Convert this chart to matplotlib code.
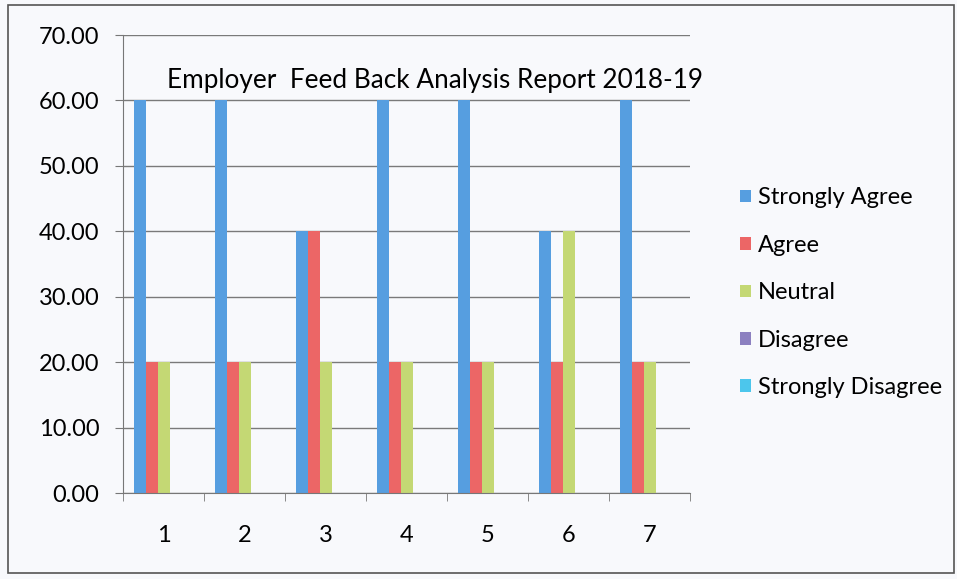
import numpy as np
import matplotlib.pyplot as plt
from matplotlib.patches import Rectangle

# Chart data
categories = ['1', '2', '3', '4', '5', '6', '7']
strongly_agree = [60, 60, 40, 60, 60, 40, 60]
agree = [20, 20, 40, 20, 20, 20, 20]
neutral = [20, 20, 20, 20, 20, 40, 20]
disagree = [0, 0, 0, 0, 0, 0, 0]
strongly_disagree = [0, 0, 0, 0, 0, 0, 0]

series_names = ['Strongly Agree', 'Agree', 'Neutral', 'Disagree', 'Strongly Disagree']
colors = ['#569ee0', '#ec6666', '#c4d874', '#8c80c0', '#4cc6ec']

plt.rcParams['font.family'] = ['Lato', 'DejaVu Sans']
fs = 17

fig = plt.figure(figsize=(9.57, 5.79), dpi=100)
fig.patch.set_facecolor('#f8f9fc')
fig.patches.append(Rectangle((8 / 957, 6 / 579), 946 / 957, 568 / 579,
                             transform=fig.transFigure, fill=False,
                             edgecolor='#555555', linewidth=1.2))

ax = fig.add_axes([123 / 957, 1 - 493 / 579, 567 / 957, 458 / 579])
ax.set_facecolor('#f8f9fc')

x = np.arange(len(categories))
bar_w = 1 / 6.75
all_series = [strongly_agree, agree, neutral, disagree, strongly_disagree]
for i, (vals, name, c) in enumerate(zip(all_series, series_names, colors)):
    ax.bar(x + (i - 2) * bar_w, vals, width=bar_w, color=c, label=name, zorder=3)

ax.set_xlim(-0.5, len(categories) - 0.5)
ax.set_ylim(0, 70)
ax.set_yticks(np.arange(0, 71, 10))
ax.set_yticklabels([f'{v:.2f}' for v in np.arange(0, 71, 10)], fontsize=fs)
ax.set_xticks(x)
ax.set_xticklabels(categories, fontsize=fs)
ax.set_xticks(np.arange(-0.5, len(categories)), minor=True)
ax.tick_params(axis='x', which='major', length=0, pad=23)
ax.tick_params(axis='x', which='minor', length=6, color='#777777', direction='out')
ax.tick_params(axis='y', length=6, color='#777777', direction='out', pad=11)

ax.yaxis.grid(True, color='#7a7a7a', linewidth=1, zorder=0)
for s in ['top', 'right']:
    ax.spines[s].set_visible(False)
for s in ['left', 'bottom']:
    ax.spines[s].set_color('#777777')
ax.spines['bottom'].set_zorder(4)

# title sits inside the plot area, between the 60 and 70 gridlines
ax.text(3.35, 63.1, 'Employer  Feed Back Analysis Report 2018-19', fontsize=18.8,
        ha='center', va='center', zorder=5)

ax.legend(loc='upper left', bbox_to_anchor=(731 / 957, 1 - 178 / 579),
          bbox_transform=fig.transFigure, frameon=False, fontsize=fs,
          handlelength=0.45, handleheight=0.45, handletextpad=0.3,
          labelspacing=1.12, borderaxespad=0)

fig.savefig('out.png', dpi=100, facecolor=fig.get_facecolor())
